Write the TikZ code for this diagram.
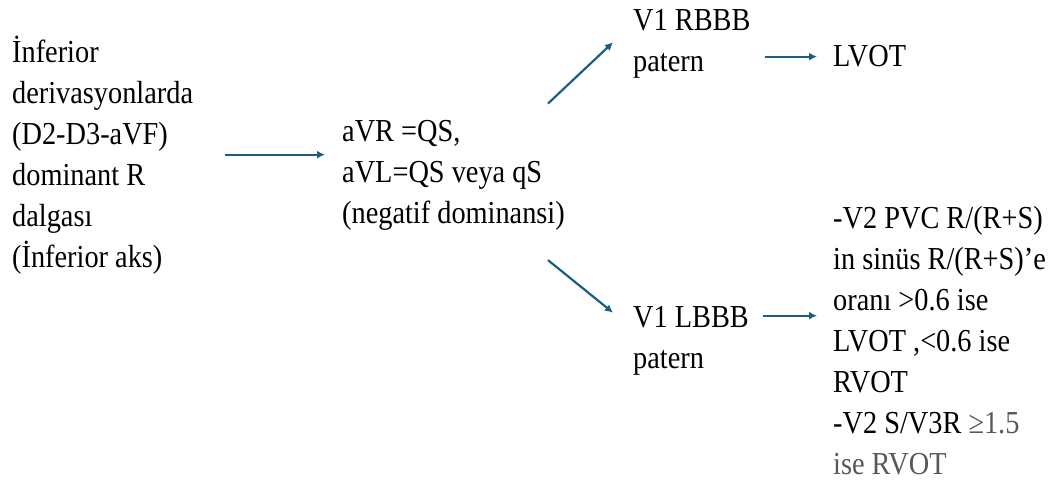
\documentclass[tikz,border=0pt]{standalone}
\usepackage{fontspec}
\setmainfont{Liberation Serif}[FakeStretch=0.885]
\usepackage{tikz}
\usetikzlibrary{arrows.meta,positioning}
\definecolor{linkblue}{RGB}{26,94,134}
\definecolor{softgray}{RGB}{88,88,88}
\tikzstyle{lbl}=[
	align=left,
	inner sep=0pt,
	anchor=base west,
	font=\fontsize{32}{41}\selectfont
]
\tikzstyle{link}=[
	-{Latex[length=8pt,width=8pt]},
	draw=linkblue,
	line width=2.2pt
]

\begin{document}
\begin{tikzpicture}[x=1pt, y=-1pt]
\useasboundingbox (0,0) rectangle (1052,489);

\node[lbl] (inf) at (12,267) {İnferior\\derivasyonlarda\\(D2-D3-aVF)\\dominant R\\dalgası\\(İnferior aks)};
\node[lbl] (avr) at (342,224) {aVR =QS,\\aVL=QS veya qS\\(negatif dominansi)};
\node[lbl] (rbbb) at (633,72) {V1 RBBB\\patern};
\node[lbl] (lvot) at (833,67) {LVOT};
\node[lbl] (lbbb) at (633,368) {V1 LBBB\\patern};
\node[lbl] (crit) at (833,474) {-V2 PVC R/(R+S)\\in sinüs R/(R+S)’e\\oranı >0.6 ise\\LVOT ,<0.6 ise\\RVOT\\-V2 S/V3R {\color{softgray}≥1.5}\\{\color{softgray}ise RVOT}};

\draw[link, shorten <=32pt, shorten >=17pt] (inf.east) -- (inf.east -| avr.west);
\draw[link] ([shift={(-17,-17)}]avr.north east) -- ([shift={(-20,-2)}]rbbb.west);
\draw[link] ([shift={(-17,29)}]avr.south east) -- ([shift={(-20,7)}]lbbb.north west);
\draw[link, shorten <=14pt, shorten >=16pt] (rbbb.east |- lvot.west) -- (lvot.west);

\coordinate (lb) at ([yshift=-10pt]lbbb.north east);
\draw[link, shorten <=14pt, shorten >=16pt] (lb) -- (lb -| crit.west);

\end{tikzpicture}
\end{document}
